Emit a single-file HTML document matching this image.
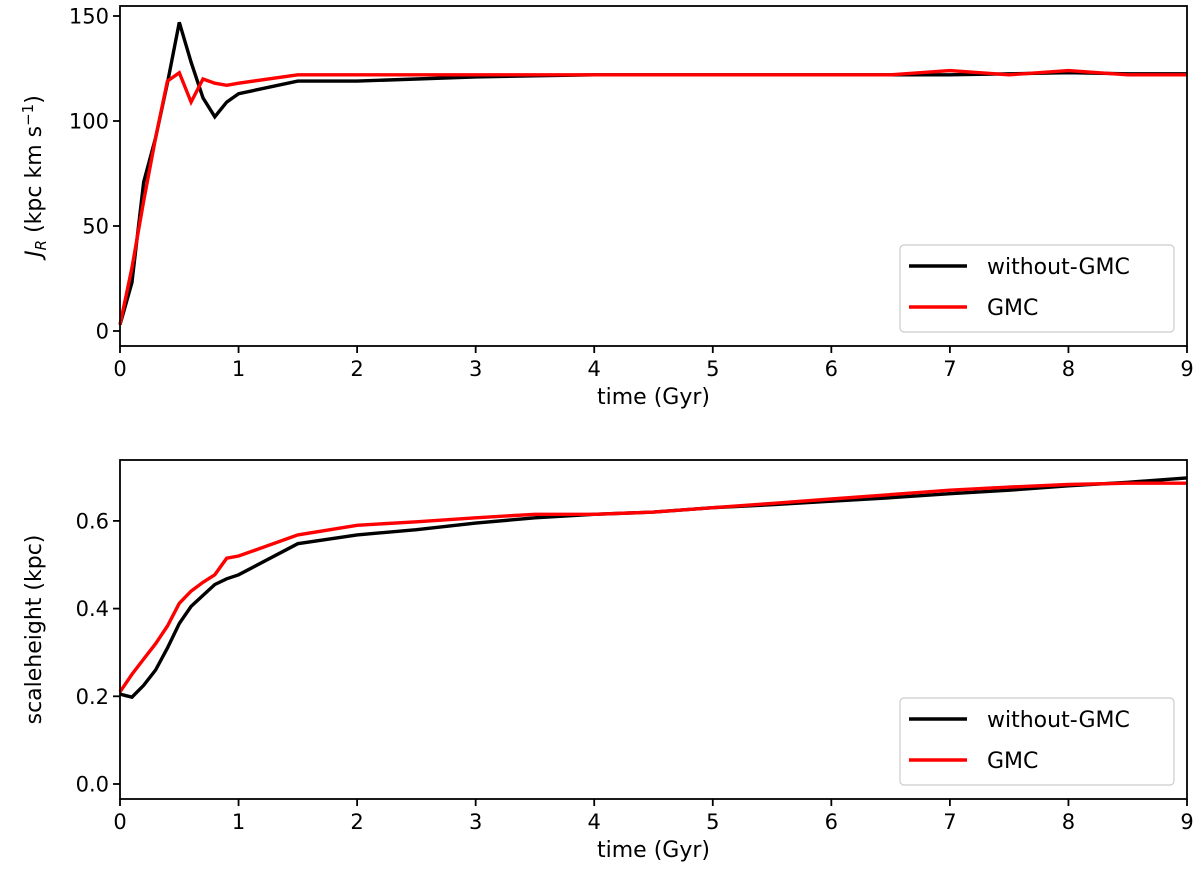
<!DOCTYPE html>
<html><head><meta charset="utf-8"><style>
body{margin:0;background:#fff}
svg text{font-family:"DejaVu Sans","Liberation Sans",sans-serif;fill:#000}
</style></head><body>
<svg id="fig" width="1200" height="888" xmlns="http://www.w3.org/2000/svg"></svg>
<script>
const times=[0,0.1,0.2,0.3,0.4,0.5,0.6,0.7,0.8,0.9,1.0,1.5,2,2.5,3,3.5,4,4.5,5,5.5,6,6.5,7,7.5,8,8.5,9];
const jrNoGmc=[3,23,71,92,118,147,128,111,102,109,113,119,119,120,121,121.5,122,122,122,122,122,122,122,122.5,123,122.5,122.5];
const jrGmc=[3,30,62,92,119,123,109,120,118,117,118,122,122,122,122,122,122,122,122,122,122,122,124,122,124,122,122];
const hNoGmc=[0.205,0.198,0.225,0.26,0.31,0.366,0.405,0.43,0.455,0.468,0.477,0.548,0.568,0.58,0.595,0.607,0.615,0.62,0.63,0.637,0.645,0.653,0.662,0.67,0.68,0.688,0.698];
const hGmc=[0.21,0.25,0.285,0.32,0.36,0.412,0.44,0.46,0.477,0.515,0.52,0.568,0.59,0.598,0.607,0.615,0.615,0.62,0.63,0.64,0.65,0.66,0.67,0.677,0.683,0.686,0.686];
const xTicks=[0,1,2,3,4,5,6,7,8,9];
const jrTicks=[0,50,100,150];
const hTicks=[0.0,0.2,0.4,0.6];
const NS="http://www.w3.org/2000/svg";
const svg=document.getElementById('fig');
function mk(t,a,p){const e=document.createElementNS(NS,t);for(const k in a)e.setAttribute(k,a[k]);(p||svg).appendChild(e);return e;}
const X0=120,X1=1187;
function xs(t){return X0+(X1-X0)*t/9;}
function panel(name,top,bot,yScale,yTicks,fmt,s1,s2,ylabel,legY){
  const g=mk('g',{});
  
  
  xTicks.forEach(t=>{
    const x=xs(t);
    const tk=mk('line',{x1:x,x2:x,y1:bot,y2:bot+7,stroke:'#000','stroke-width':1.8},g);
    
    const tx=mk('text',{x:x,y:bot+30,'text-anchor':'middle','font-size':21},g);tx.textContent=t;
    
  });
  yTicks.forEach(v=>{
    const y=yScale(v);
    const tk=mk('line',{x1:X0-7,x2:X0,y1:y,y2:y,stroke:'#000','stroke-width':1.8},g);
    
    const tx=mk('text',{x:X0-11,y:y+7.5,'text-anchor':'end','font-size':21},g);tx.textContent=fmt(v);
    
  });
  [[s1,'#000','without-gmc-line'],[s2,'#f00','gmc-line']].forEach(([s,c,n])=>{
    const d=times.map((t,i)=>(i?'L':'M')+xs(t).toFixed(1)+','+yScale(s[i]).toFixed(1)).join('');
    const p=mk('path',{d:d,fill:'none',stroke:c,'stroke-width':3.4,'stroke-linejoin':'miter'},g);
    
  });
  const fr=mk('rect',{x:X0,y:top,width:X1-X0,height:bot-top,fill:'none',stroke:'#000','stroke-width':1.8},g);
  
  const xl=mk('text',{x:(X0+X1)/2,y:bot+58,'text-anchor':'middle','font-size':22},g);xl.textContent='time (Gyr)';
  
  const yl=mk('text',{x:0,y:0,'text-anchor':'middle','font-size':22,transform:`translate(41,${(top+bot)/2}) rotate(-90)`},g);
  yl.innerHTML=ylabel;
  
  const lg=mk('g',{},g);
  
  mk('rect',{x:900,y:legY,width:274,height:87,rx:4,fill:'#fff',stroke:'#ccc','stroke-width':1.2},lg);
  [['#000','without-GMC',21],['#f00','GMC',62]].forEach(([c,l,dy])=>{
    const e=mk('g',{},lg);
    
    mk('line',{x1:909,x2:967,y1:legY+dy,y2:legY+dy,stroke:c,'stroke-width':3.4},e);
    const t=mk('text',{x:987,y:legY+dy+8,'font-size':22},e);t.textContent=l;
  });
}
panel('jr',6,346,v=>331-v*2.1,jrTicks,v=>String(v),jrNoGmc,jrGmc,
 '<tspan font-style="italic">J</tspan><tspan font-style="italic" font-size="15" dy="5">R</tspan><tspan dy="-5"> (kpc km s</tspan><tspan font-size="15" dy="-8">−1</tspan><tspan dy="8">)</tspan>',245);
panel('scaleheight',460,799,v=>784-v*438.5,hTicks,v=>v.toFixed(1),hNoGmc,hGmc,'scaleheight (kpc)',698);
</script>
</body></html>
